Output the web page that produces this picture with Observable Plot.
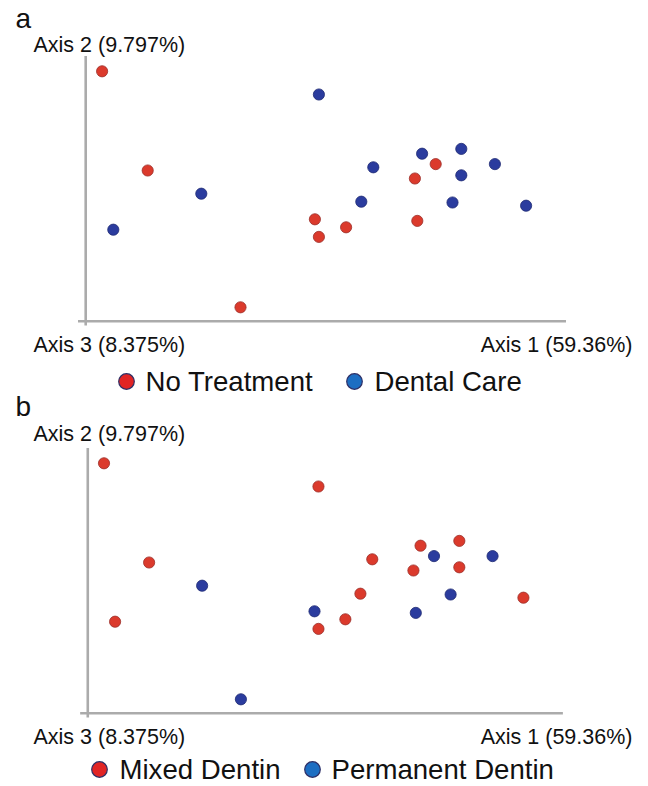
<!DOCTYPE html>
<html>
<head>
<meta charset="utf-8">
<script src="https://cdn.jsdelivr.net/npm/d3@7"></script>
<script src="https://cdn.jsdelivr.net/npm/@observablehq/plot@0.6"></script>
<style>
  html, body { margin: 0; padding: 0; background: #fff; }
  #chart { position: relative; width: 648px; height: 786px; }
  #chart svg { display: block; position: absolute; left: 0; background: transparent !important; }
</style>
</head>
<body>
<div id="chart"></div>
<script>
// Sample scores on the first two principal coordinates (20 samples)
const axis1 = [-0.248, -0.191, -0.124, -0.234, -0.075, 0.023, 0.152, 0.201, 0.169, 0.243,
               0.091, 0.143, 0.201, 0.076, 0.190, 0.282, 0.018, 0.146, 0.057, 0.023];
const axis2 = [0.149, 0.025, -0.004, -0.049, -0.146, 0.120, 0.046, 0.052, 0.033, 0.033,
               0.029, 0.015, 0.019, -0.014, -0.015, -0.019, -0.036, -0.038, -0.046, -0.058];
const NT = "No Treatment", DC = "Dental Care";
const treatment = [NT, NT, DC, DC, NT, DC, DC, DC, NT, DC, DC, NT, DC, DC, DC, DC, NT, NT, NT, NT];
const MD = "Mixed Dentin", PD = "Permanent Dentin";
const dentin = [MD, MD, PD, MD, PD, MD, MD, MD, PD, PD, MD, MD, MD, MD, PD, MD, PD, PD, MD, MD];

const axisLabels = ["Axis 1 (59.36%)", "Axis 2 (9.797%)", "Axis 3 (8.375%)"];
const panelLetters = ["a", "b"];

const FONT = "'Liberation Sans', Arial, Helvetica, sans-serif";
const RED = "#db3a2c", RED_STROKE = "#9b2f2a";
const BLUE = "#2b3c9e", BLUE_STROKE = "#1e2a72";
const LEG_RED = "#e12424", LEG_BLUE = "#1d6ec2", LEG_STROKE = "#2e2f66";

function panel({letter, groups, cats, top, height, xRange, yRange, legendX, legendTextX, letterShift, axis2Shift, legendShift}) {
  const data = axis1.map((v, i) => ({a1: v, a2: axis2[i], g: groups[i]}));
  const xMin = d3.min(axis1), xMax = d3.max(axis1);
  const yMin = d3.min(axis2), yMax = d3.max(axis2);
  const vx = xMin - 0.0205;           // vertical axis line position
  const hy = yMin - 0.0174;           // horizontal axis line position
  const txt = (s, dx, dy, opts = {}) => Plot.text([s], {
    frameAnchor: "top-left", dx, dy, lineAnchor: "bottom", textAnchor: "start",
    fontSize: 21.5, fill: "#111", ...opts
  });
  const yo = yRange[1]; // local offset of this panel's frame
  const ly = yo + legendShift;
  const svg = Plot.plot({
    width: 648, height,
    margin: 0,
    style: {fontFamily: FONT, background: "transparent", overflow: "visible"},
    x: {domain: [-0.375, 0.435], range: xRange, axis: null},
    y: {domain: [-0.25, 0.2375], range: yRange, axis: null},
    color: {domain: cats, range: [RED, BLUE]},
    marks: [
      Plot.ruleX([vx], {y1: yMax + 0.0185, y2: yMin - 0.0235, stroke: "#ababab", strokeWidth: 2.6}),
      Plot.ruleY([hy], {x1: xMin - 0.0295, x2: xMax + 0.0505, stroke: "#ababab", strokeWidth: 2.6}),
      Plot.dot(data, {x: "a1", y: "a2", r: 5.6, fill: "g",
        stroke: d => d.g === cats[0] ? RED_STROKE : BLUE_STROKE, strokeWidth: 0.8}),
      txt(letter, 15, 27 + yo + letterShift, {fontSize: 28}),
      txt(axisLabels[1], 33, 51 + yo + axis2Shift),
      txt(axisLabels[2], 33, 351 + yo),
      txt(axisLabels[0], 632, 351 + yo, {textAnchor: "end"}),
      Plot.dot([0], {frameAnchor: "top-left", dx: legendX[0], dy: 381 + ly, r: 7.8,
        fill: LEG_RED, stroke: LEG_STROKE, strokeWidth: 1.2}),
      Plot.dot([0], {frameAnchor: "top-left", dx: legendX[1], dy: 381 + ly, r: 7.8,
        fill: LEG_BLUE, stroke: LEG_STROKE, strokeWidth: 1.2}),
      txt(cats[0], legendTextX[0], 390 + ly, {fontSize: 27.6}),
      txt(cats[1], legendTextX[1], 390 + ly, {fontSize: 27.6})
    ]
  });
  svg.style.top = top + "px";
  return svg;
}

const chart = document.getElementById("chart");
chart.append(panel({
  letter: panelLetters[0], groups: treatment, cats: [NT, DC], top: 0, height: 400,
  xRange: [0, 648], yRange: [390, 0], letterShift: 0, axis2Shift: 0, legendShift: 0,
  legendX: [126, 354], legendTextX: [145, 374]
}));
chart.append(panel({
  letter: panelLetters[1], groups: dentin, cats: [MD, PD], top: 384, height: 402,
  xRange: [3, 644], yRange: [398, 8], letterShift: -4, axis2Shift: -3, legendShift: -4,
  legendX: [99, 312], legendTextX: [119, 331]
}));
</script>
</body>
</html>
